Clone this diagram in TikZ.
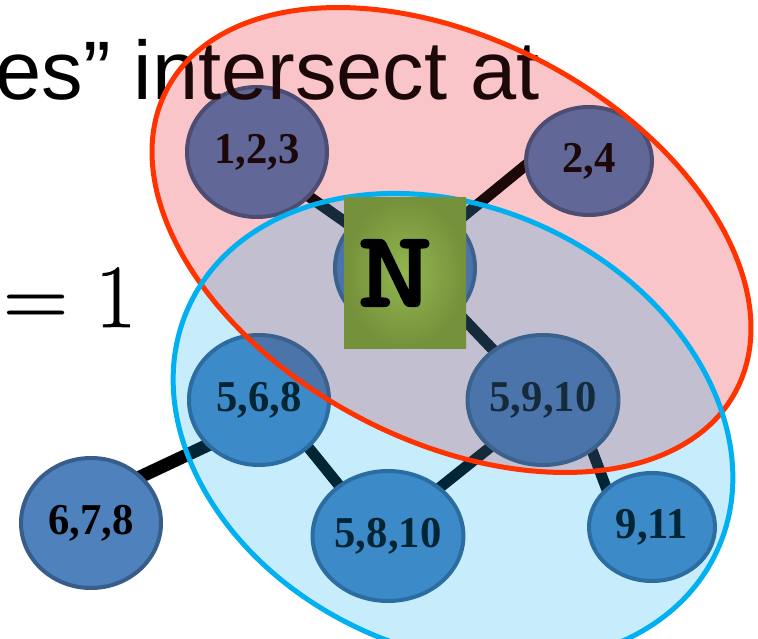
\documentclass[tikz,border=0pt]{standalone}
\usepackage{fontspec}
\setmainfont{Liberation Serif}
\newfontfamily\labserif{Liberation Serif}[FakeStretch=0.97]
\newfontfamily\labsans{Liberation Sans}
\newfontfamily\labmono{Latin Modern Mono}[FakeBold=3.5, FakeStretch=1.35]
\newfontfamily\labmath{Latin Modern Roman}[FakeBold=0.8]
\usetikzlibrary{shapes.geometric,calc}
\pgfdeclarelayer{bg}
\pgfsetlayers{bg,main}
\definecolor{nodefill}{RGB}{79,129,189}
\definecolor{nodeline}{RGB}{56,93,138}
\definecolor{redline}{RGB}{255,51,0}
\definecolor{blueline}{RGB}{0,176,240}
\definecolor{redtintA}{RGB}{252,215,218}
\definecolor{redtintB}{RGB}{235,70,80}
\definecolor{bluetint}{RGB}{0,170,240}
\definecolor{greenin}{RGB}{146,182,80}
\definecolor{greenout}{RGB}{117,145,59}
\begin{document}
\begin{tikzpicture}[x=1pt,y=-1pt,
  cnode/.style={ellipse, fill=nodefill, draw=nodeline, line width=4pt, inner sep=0pt,
    minimum width=140pt, minimum height=130pt, text=black,
    font=\labserif\bfseries\fontsize{44}{50}\selectfont},
  snode/.style={cnode, minimum width=126pt, minimum height=108pt},
  link/.style={line width=11pt, black},
  redregion/.style={rotate around={-28:(451.5,240)}},
  blueregion/.style={rotate around={-25:(453,428.5)}},
]
\useasboundingbox (0,0) rectangle (758,639);
\clip (0,0) rectangle (758,639);
\begin{pgfonlayer}{bg}
  \fill[white] (0,0) rectangle (758,639);
\end{pgfonlayer}

% nodes
\node[cnode] (n123) at (257,152) {1,2,3};
\node[snode] (n24) at (589,161) {2,4};
\node[cnode] (hid) at (405,268) {};
\node[cnode] (n568) at (259,400) {5,6,8};
\node[cnode] (n5910) at (543,400) {5,9,10};
\node[cnode] (n678) at (91,523) {6,7,8};
\node[cnode] (n5810) at (388,536) {5,8,10};
\node[snode] (n911) at (652,527) {9,11};

% connectors behind nodes
\begin{pgfonlayer}{bg}
  \draw[link] ($(hid)+(0,-4)$) -- ($(n123)+(0,8)$);
  \draw[link] ($(hid)+(0,-4)$) -- ($(n24)+(-30,-23)$);
  \draw[link] ($(hid)+(10,0)$) -- ($(n5910)+(-2,0)$);
  \draw[link] ($(n5910)+(30,0)$) -- ($(n911)+(-31,0)$);
  \draw[link] ($(n5910)+(0,5)$) -- ($(n5810)+(0,-7)$);
  \draw[link] ($(n568)+(11,0)$) -- ($(n5810)+(-8,0)$);
  \draw[link, line width=13pt] ($(n678)+(0,-23)$) -- ($(n568)+(0,21)$);
\end{pgfonlayer}

% texts
\node[anchor=base east, inner sep=0pt, font=\labsans\fontsize{83}{90}\selectfont] (title) at (540,100) {es” intersect at};
\node[anchor=base west, inner sep=0pt, font=\labmath\fontsize{90}{96}\selectfont] (eq) at (3,327) {=\kern27pt1};

% hyperedge regions
\fill[redregion, redtintA, blend mode=multiply] (451.5,240) ellipse [x radius=322, y radius=200];
\fill[redregion, redtintB, fill opacity=0.12] (451.5,240) ellipse [x radius=322, y radius=200];
\fill[blueregion, bluetint, fill opacity=0.22] (453,428.5) ellipse [x radius=291, y radius=221];
\draw[redregion, redline, line width=5pt] (451.5,240) ellipse [x radius=322, y radius=200];
\draw[blueregion, blueline, line width=5pt] (453,428.5) ellipse [x radius=291, y radius=221];

% N box
\node[rectangle, minimum width=122pt, minimum height=150pt, inner sep=0pt,
  inner color=greenin, outer color=greenout,
  font=\labmono\fontsize{106}{110}\selectfont] (nbox) at (405,273) {N\kern20pt};
\end{tikzpicture}
\end{document}
